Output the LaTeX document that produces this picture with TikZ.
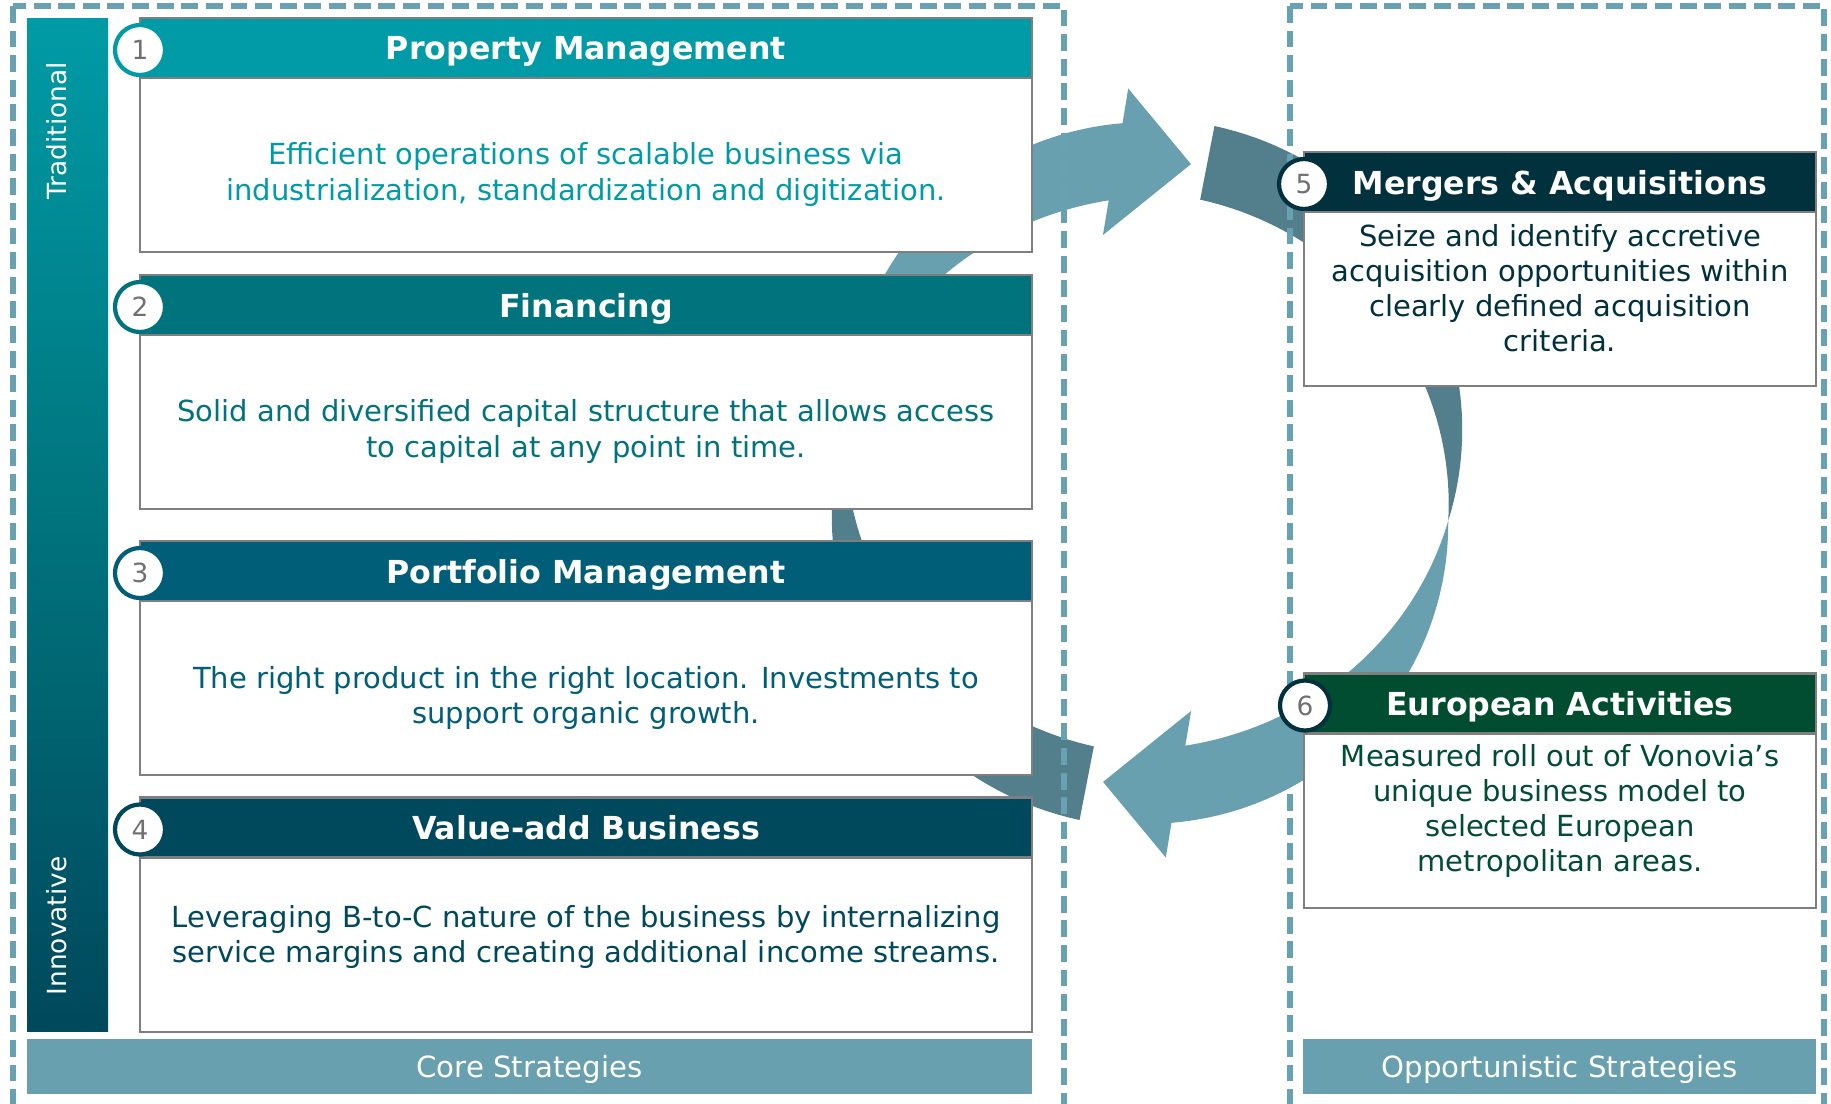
\documentclass[tikz,border=0pt]{standalone}
\usepackage{fontspec}
\setmainfont{DejaVu Sans}
\definecolor{cA}{HTML}{009BA6}
\definecolor{cB}{HTML}{00737C}
\definecolor{cC}{HTML}{005E78}
\definecolor{cD}{HTML}{00485C}
\definecolor{cE}{HTML}{02313E}
\definecolor{cF}{HTML}{004D32}
\definecolor{lightarr}{HTML}{68A0B0}
\definecolor{darkarr}{HTML}{537F8C}
\definecolor{dashcol}{HTML}{68A2B2}
\definecolor{bordergray}{HTML}{7F7F7F}
\definecolor{numgray}{HTML}{707070}
\begin{document}
\begin{tikzpicture}[x=0.01cm,y=-0.01cm,
  declare function={
    dt(\t)=(\t-101)/88;
    dw(\t)=37.5*cos(90*dt(\t));
    drc(\t)=316-11*dt(\t);
    ls(\t)=(\t-189)/75;
    lw(\t)=37.5*sin(90*ls(\t));
    lrc(\t)=305+8*ls(\t);
  },
  hdrL/.style={draw=bordergray, line width=0.6pt, minimum width=8.92cm, minimum height=0.60cm, inner sep=0pt, text depth=0pt, text=white, font=\bfseries\fontsize{9}{11}\selectfont},
  hdrR/.style={hdrL, minimum width=5.12cm},
  bodyL/.style={draw=bordergray, line width=0.6pt, fill=white, minimum width=8.92cm, minimum height=1.74cm, inner sep=0pt},
  bodyR/.style={bodyL, minimum width=5.12cm},
  btext/.style={align=center, inner sep=0pt, font=\fontsize{8.25}{9.96}\selectfont},
  numc/.style={circle, fill=white, line width=1.2pt, minimum size=0.50cm, inner sep=0pt, text=numgray, font=\fontsize{7.5}{9}\selectfont},
  footbar/.style={fill=lightarr, minimum height=0.55cm, inner sep=0pt, text depth=0pt, text=white, font=\fontsize{8.3}{10}\selectfont},
  dashbox/.style={draw=dashcol, line width=1.45pt, dash pattern=on 4.8pt off 2.2pt},
  sidetext/.style={rotate=90, text=white, inner sep=0pt, font=\fontsize{7.5}{9}\selectfont}
]
\useasboundingbox (0,0) rectangle (1831,1103);
\begin{scope}
\clip (0,0) rectangle (1831,1103);
% arrow A (left side, pointing up-right)
\begin{scope}[shift={(1147,473)}]
  \fill[darkarr] plot[domain=101:189,samples=50,variable=\t] ({\t}:{drc(\t)+dw(\t)})
     -- plot[domain=189:101,samples=50,variable=\t] ({\t}:{drc(\t)-dw(\t)}) -- cycle;
  \fill[lightarr] plot[domain=189:266,samples=50,variable=\t] ({\t}:{lrc(\t)+lw(\t)})
     -- (267.2:385) -- (278.1:312) -- (259.5:242)
     -- plot[domain=262:189,samples=50,variable=\t] ({\t}:{lrc(\t)-lw(\t)}) -- cycle;
\end{scope}
% arrow B dark tail
\begin{scope}[shift={(1147,473)}, rotate=180]
  \fill[darkarr] plot[domain=101:189,samples=50,variable=\t] ({\t}:{drc(\t)+dw(\t)})
     -- plot[domain=189:101,samples=50,variable=\t] ({\t}:{drc(\t)-dw(\t)}) -- cycle;
\end{scope}
% dashed frames
\draw[dashbox] (13,6) rectangle (1064,1140);
\draw[dashbox] (1290,6) rectangle (1824,1140);
% arrow B light part
\begin{scope}[shift={(1147,473)}, rotate=180]
  \fill[lightarr] plot[domain=189:266,samples=50,variable=\t] ({\t}:{lrc(\t)+lw(\t)})
     -- (267.2:385) -- (278.1:312) -- (259.5:242)
     -- plot[domain=262:189,samples=50,variable=\t] ({\t}:{lrc(\t)-lw(\t)}) -- cycle;
\end{scope}
\end{scope}

% side bar
\shade[top color=cA, bottom color=cD, middle color=cB] (27,18) rectangle (108,1031);
\node[sidetext] (trad) at (57,131) {Traditional};
\node[sidetext] (innov) at (57,926) {Innovative};

% left cards
\node[bodyL] (b1) at (586,165) {};
\node[hdrL, fill=cA] (h1) at (586,48) {Property Management};
\node[btext, text=cA] (t1) at (586,174.5) {Efficient operations of scalable business via\\industrialization, standardization and digitization.};
\node[numc, draw=cA] (n1) at (140,50) {1};

\node[bodyL] (b2) at (586,422) {};
\node[hdrL, fill=cB] (h2) at (586,305) {Financing};
\node[btext, text=cB] (t2) at (586,431.5) {Solid and diversified capital structure that allows access\\to capital at any point in time.};
\node[numc, draw=cB] (n2) at (140,307) {2};

\node[bodyL] (b3) at (586,688) {};
\node[hdrL, fill=cC] (h3) at (586,571) {Portfolio Management};
\node[btext, text=cC] (t3) at (586,697.5) {The right product in the right location. Investments to\\support organic growth.};
\node[numc, draw=cC] (n3) at (140,573) {3};

\node[bodyL] (b4) at (586,944.5) {};
\node[hdrL, fill=cD] (h4) at (586,827.5) {Value-add Business};
\node[btext, text=cD] (t4) at (586,937) {Leveraging B-to-C nature of the business by internalizing\\service margins and creating additional income streams.};
\node[numc, draw=cD] (n4) at (140,829.5) {4};

% right cards
\node[bodyR] (b5) at (1560,299) {};
\node[hdrR, fill=cE] (h5) at (1560,182) {Mergers \& Acquisitions};
\node[btext, text=cE] (t5) at (1560,288.5) {Seize and identify accretive\\acquisition opportunities within\\clearly defined acquisition\\criteria.};
\node[numc, draw=cE] (n5) at (1304,184) {5};

\node[bodyR] (b6) at (1560,820.5) {};
\node[hdrR, fill=cF] (h6) at (1560,703.5) {European Activities};
\node[btext, text=cF] (t6) at (1560,811) {Measured roll out of Vonovia’s\\unique business model to\\selected European\\metropolitan areas.};
\node[numc, draw=cE] (n6) at (1305,705.5) {6};

% footer bars
\node[footbar, minimum width=10.05cm] (core) at (529.5,1066.5) {Core Strategies};
\node[footbar, minimum width=5.13cm] (opp) at (1559.5,1066.5) {Opportunistic Strategies};
\end{tikzpicture}
\end{document}
